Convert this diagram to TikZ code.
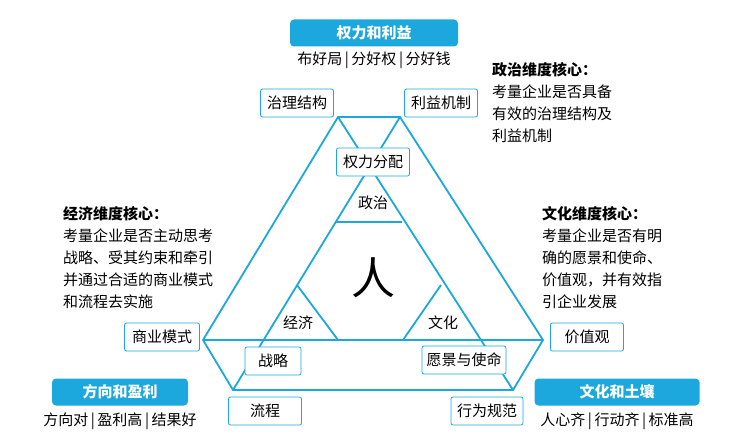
\documentclass[tikz,border=0pt]{standalone}
\usepackage{fontspec}
\setmainfont{Noto Sans CJK SC}
\definecolor{cy}{HTML}{1CA8DD}
\begin{document}
\begin{tikzpicture}[x=1pt,y=-1pt,
  ln/.style={draw=cy,line width=1.8pt,line join=miter},
  bx/.style={draw=cy,fill=white,rounded corners=2pt,line width=0.8pt,minimum height=28pt,inner xsep=3pt,font=\fontsize{15}{15}\selectfont},
  hd/.style={fill=cy,rounded corners=4pt,text=white,minimum height=27pt,font=\fontsize{15}{15}\selectfont\bfseries},
  tx/.style={font=\fontsize{15}{15}\selectfont},
  para/.style={align=left,anchor=north west,font=\fontsize{15}{22}\selectfont,inner sep=0pt}]
\useasboundingbox (0,0) rectangle (750,444);
\coordinate (TL) at (338,117); \coordinate (TR) at (400,117);
\coordinate (R) at (543,340); \coordinate (BR) at (513,390);
\coordinate (BL) at (233,390); \coordinate (L) at (203,340);
\coordinate (P1) at (336,222); \coordinate (P2) at (402,222);
\coordinate (E) at (297,285); \coordinate (E2) at (338,340);
\coordinate (C) at (441,285); \coordinate (C2) at (403,340);
\draw[ln] (TL)--(TR)--(R)--(BR)--(BL)--(L)--cycle;
\draw[ln] (L)--(R);
\draw[ln] (TL)--(BR); \draw[ln] (TR)--(BL);
\draw[ln] (P1)--(P2); \draw[ln] (E)--(E2); \draw[ln] (C)--(C2);
\node[bx,minimum width=73pt] (zl) at (297,103) {治理结构};
\node[bx,minimum width=73pt] (ly) at (441,103) {利益机制};
\node[bx,minimum width=73pt] (ql) at (373,162) {权力分配};
\node[bx,minimum width=56pt] (zlue) at (273,361) {战略};
\node[bx,minimum width=84pt] (yj) at (464,360) {愿景与使命};
\node[bx,minimum width=73pt] (lc) at (265,411) {流程};
\node[bx,minimum width=72pt] (xw) at (487,411) {行为规范};
\node[bx,minimum width=75pt] (sy) at (162,337) {商业模式};
\node[bx,minimum width=73pt] (jz) at (587,337) {价值观};
\node[tx] (zz) at (373,203) {政治};
\node[font=\fontsize{44}{44}\selectfont] (ren) at (373,278) {人};
\node[tx] (jj) at (298,323) {经济};
\node[tx] (wh) at (443,323) {文化};
\node[hd,minimum width=168pt] (h1) at (374,33) {权力和利益};
\node[hd,minimum width=136pt] (h2) at (120,392) {方向和盈利};
\node[hd,minimum width=165pt] (h3) at (617,392) {文化和土壤};
\node[tx] (s1) at (374,60) {布好局\,|\,分好权\,|\,分好钱};
\node[tx] (s2) at (120,421) {方向对\,|\,盈利高\,|\,结果好};
\node[tx] (s3) at (617,421) {人心齐\,|\,行动齐\,|\,标准高};
\node[para] (t1) at (492,62) {\textbf{政治维度核心：}\\考量企业是否具备\\有效的治理结构及\\利益机制};
\node[para] (t2) at (63,206) {\textbf{经济维度核心：}\\考量企业是否主动思考\\战略、受其约束和牵引\\并通过合适的商业模式\\和流程去实施};
\node[para] (t3) at (542,206) {\textbf{文化维度核心：}\\考量企业是否有明\\确的愿景和使命、\\价值观，并有效指\\引企业发展};
\end{tikzpicture}
\end{document}
